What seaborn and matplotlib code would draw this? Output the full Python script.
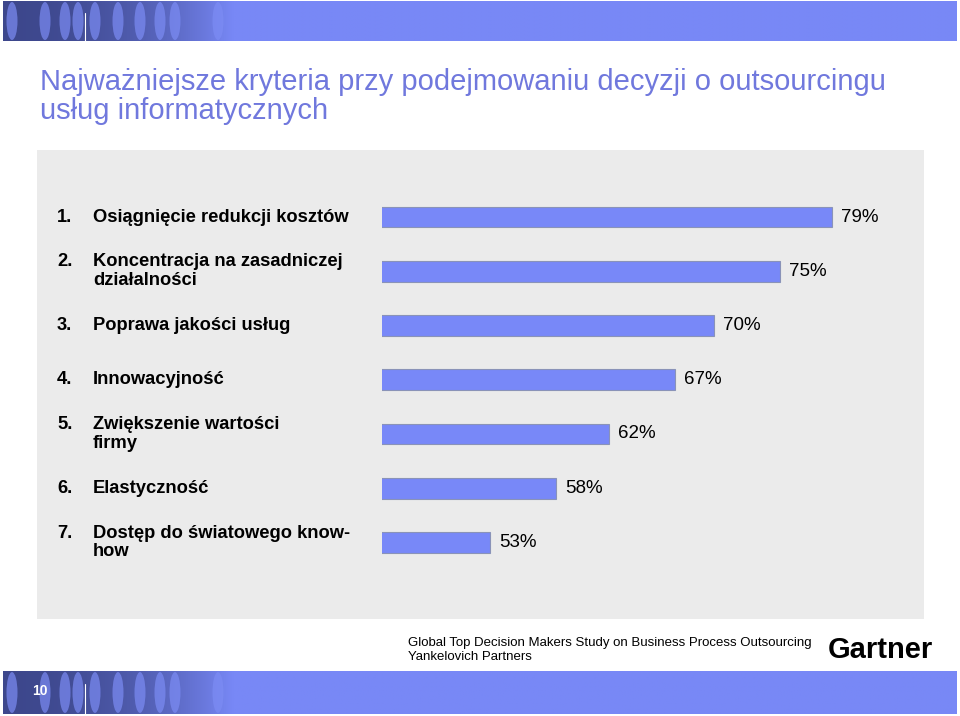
import numpy as np
import pandas as pd
import matplotlib
matplotlib.use("Agg")
import matplotlib.pyplot as plt
import matplotlib.transforms as mtransforms
from matplotlib.patches import Ellipse
import seaborn as sns

# ---- data ----
numbers = ["1.", "2.", "3.", "4.", "5.", "6.", "7."]
criteria = [
    "Osiągnięcie redukcji kosztów",
    "Koncentracja na zasadniczej\ndziałalności",
    "Poprawa jakości usług",
    "Innowacyjność",
    "Zwiększenie wartości\nfirmy",
    "Elastyczność",
    "Dostęp do światowego know-\nhow",
]
values = [79, 75, 70, 67, 62, 58, 53]
title_lines = ["Najważniejsze kryteria przy podejmowaniu decyzji o outsourcingu",
               "usług informatycznych"]
source_text = "Global Top Decision Makers Study on Business Process Outsourcing\nYankelovich Partners"
page_number = "10"

df = pd.DataFrame({"criterion": criteria, "value": values})

sns.set_theme(style="white")
plt.rcParams["font.family"] = ["Liberation Sans", "DejaVu Sans"]

W, H = 960, 716
fig = plt.figure(figsize=(W / 100, H / 100), dpi=100)
fig.patch.set_facecolor("white")

def fx(px):
    return px / W

def fy(py):
    return 1 - py / H

# ---- grey panel (behind everything) ----
panel_ax = fig.add_axes([fx(37), fy(619), fx(924) - fx(37), fy(150) - fy(619)], zorder=-5)
panel_ax.set_facecolor("#EBEBEB")
panel_ax.set_xticks([])
panel_ax.set_yticks([])
for s in panel_ax.spines.values():
    s.set_visible(False)

# ---- banners ----
def banner(y0, y1, extent_dark=230):
    ax_b = fig.add_axes([fx(3), fy(y1), fx(957) - fx(3), fy(y0) - fy(y1)])
    ax_b.set_xlim(3, 957)
    ax_b.set_ylim(y1, y0)
    ax_b.axis("off")
    x = np.linspace(3, 957, 600)
    t = np.clip((x - 3) / extent_dark, 0, 1)
    dark = np.array([0.24, 0.28, 0.55])
    light = np.array([0x78, 0x88, 0xF6]) / 255
    w = t ** 2
    cols = dark[None, :] * (1 - w[:, None]) + light[None, :] * w[:, None]
    img = np.tile(cols[None, :, :], (10, 1, 1))
    ax_b.imshow(img, extent=[3, 957, y1, y0], aspect="auto", zorder=0)
    hgt = y1 - y0
    for cx in [12, 45, 65, 78, 95, 118, 140, 160, 175, 218]:
        ax_b.add_patch(Ellipse((cx, (y0 + y1) / 2), 11, hgt * 0.95,
                               facecolor="#7C8CF4", alpha=0.7, edgecolor="none", zorder=1))
    ax_b.plot([85, 85], [y0 + hgt * 0.3, y1], color="white", lw=0.8, zorder=2)
    return ax_b

banner(1, 41)
bb = banner(671, 714)
bb.text(40, 691, page_number, color="white", fontsize=10, fontweight="bold",
        va="center", ha="center", zorder=3)

# ---- title ----
fig.text(fx(40), fy(90), title_lines[0], color="#7078DD", fontsize=21,
         va="baseline", ha="left")
fig.text(fx(40), fy(119), title_lines[1], color="#7078DD", fontsize=21,
         va="baseline", ha="left")

# ---- chart ----
ax = fig.add_axes([fx(382), fy(619), fx(924) - fx(382), fy(150) - fy(619)])
ax.set_facecolor("none")
sns.barplot(data=df, y="criterion", x="value", orient="h", ax=ax,
            color="#7888F8", saturation=1, width=0.38,
            edgecolor="#8A93B8", linewidth=0.8)
ax.set_xlim(44.75, 44.75 + (924 - 382) / 13.15)
y_top = (150 - 217) / 54.25
y_bot = (619 - 217) / 54.25
ax.set_ylim(y_bot, y_top)
ax.bar_label(ax.containers[0], labels=[f"{v}%" for v in values],
             padding=6.5, fontsize=13.5, color="black")
ax.set_xlabel("")
ax.set_ylabel("")
ax.set_xticks([])
ax.set_yticks([])
for s in ax.spines.values():
    s.set_visible(False)

trans = mtransforms.blended_transform_factory(fig.transFigure, ax.transData)
for i, (num, lab) in enumerate(zip(numbers, criteria)):
    n_lines = lab.count("\n") + 1
    num_txt = num + "\n " * (n_lines - 1)
    fig.text(fx(57), i, num_txt, transform=trans, fontsize=13.2, fontweight="bold",
             va="center", ha="left", color="black", linespacing=1.15)
    fig.text(fx(93), i, lab, transform=trans, fontsize=13.2, fontweight="bold",
             va="center", ha="left", color="black", linespacing=1.15)

# ---- footer ----
fig.text(fx(408), fy(650), source_text, fontsize=9.5, va="center", ha="left",
         color="black", linespacing=1.2)
fig.text(fx(828), fy(650), "Gartner", fontsize=21, fontweight="bold",
         va="center", ha="left", color="black")

fig.savefig("out.png", dpi=100)
